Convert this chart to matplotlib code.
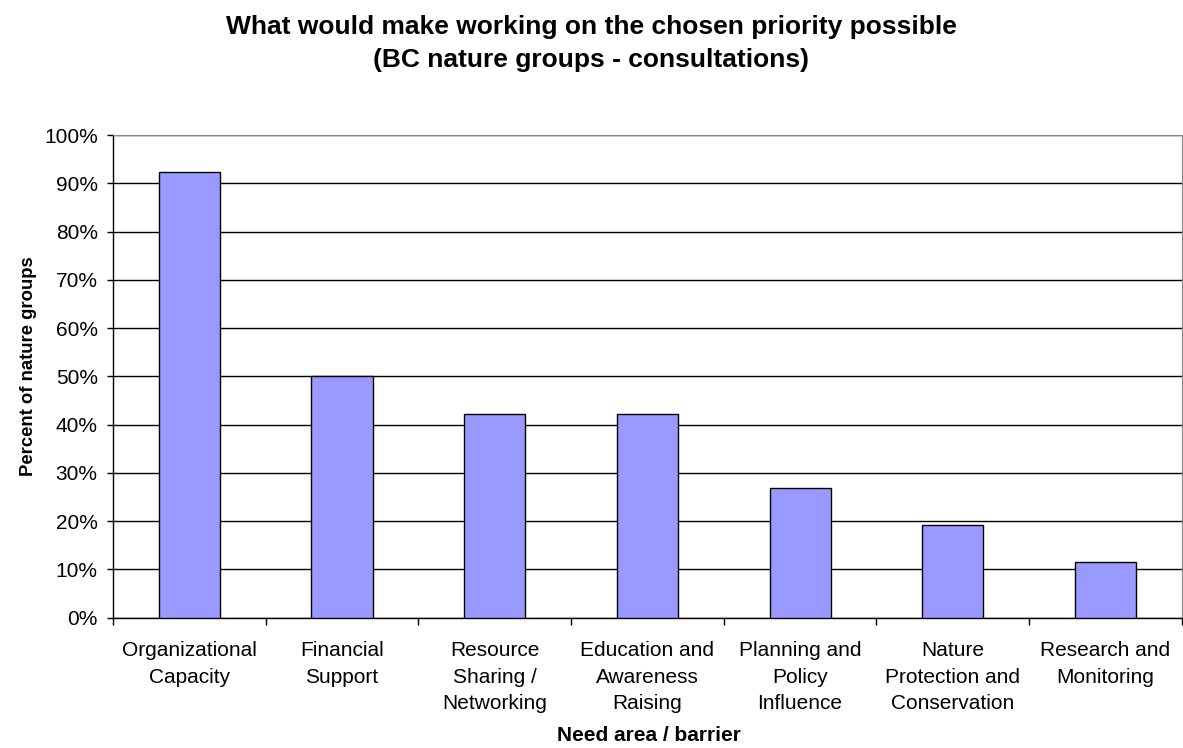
import numpy as np
import matplotlib.pyplot as plt
from matplotlib.ticker import PercentFormatter

plt.rcParams['font.family'] = ['Liberation Sans', 'DejaVu Sans']

categories = ["Organizational\nCapacity", "Financial\nSupport", "Resource\nSharing /\nNetworking",
              "Education and\nAwareness\nRaising", "Planning and\nPolicy\nInfluence",
              "Nature\nProtection and\nConservation", "Research and\nMonitoring"]
percents = [92.3, 50.0, 42.3, 42.3, 26.9, 19.2, 11.5]

fig = plt.figure(figsize=(11.83, 7.48), dpi=100)
ax = fig.add_axes([0.0955, 0.1742, 0.9035, 0.6453])

x = np.arange(len(categories))
ax.bar(x, percents, width=0.4, color='#9999FF', edgecolor='black', linewidth=1, zorder=3)

ax.set_xlim(-0.5, len(categories) - 0.5)
ax.set_ylim(0, 100)
ax.set_yticks(np.arange(0, 101, 10))
ax.yaxis.set_major_formatter(PercentFormatter(decimals=0))
ax.yaxis.grid(True, color='black', linewidth=1, zorder=0)

# category labels centred, ticks on the boundaries
ax.set_xticks(x)
ax.set_xticklabels(categories, fontsize=15, linespacing=1.5)
ax.tick_params(axis='x', length=0, pad=17)
ax.set_xticks(np.arange(-0.5, len(categories)), minor=True)
ax.tick_params(axis='x', which='minor', length=5, direction='out', width=1)
ax.tick_params(axis='y', length=4.5, direction='out', width=1, labelsize=15, pad=6.5)

for s in ['top', 'right']:
    ax.spines[s].set_color('#888888')
ax.spines['left'].set_linewidth(1)
ax.spines['bottom'].set_linewidth(1)

ax.set_xlabel("Need area / barrier", fontsize=15, fontweight='bold')
ax.xaxis.set_label_coords(0.501, -0.224)
ax.set_ylabel("Percent of nature groups", fontsize=13.3, fontweight='bold')
ax.yaxis.set_label_coords(-0.071, 0.521)

fig.text(0.4996, 1 - 67 / 748,
         "What would make working on the chosen priority possible\n(BC nature groups - consultations)",
         fontsize=19, fontweight='bold', ha='center', va='baseline', linespacing=1.47,
         multialignment='center')

fig.savefig("out.png", dpi=100)
